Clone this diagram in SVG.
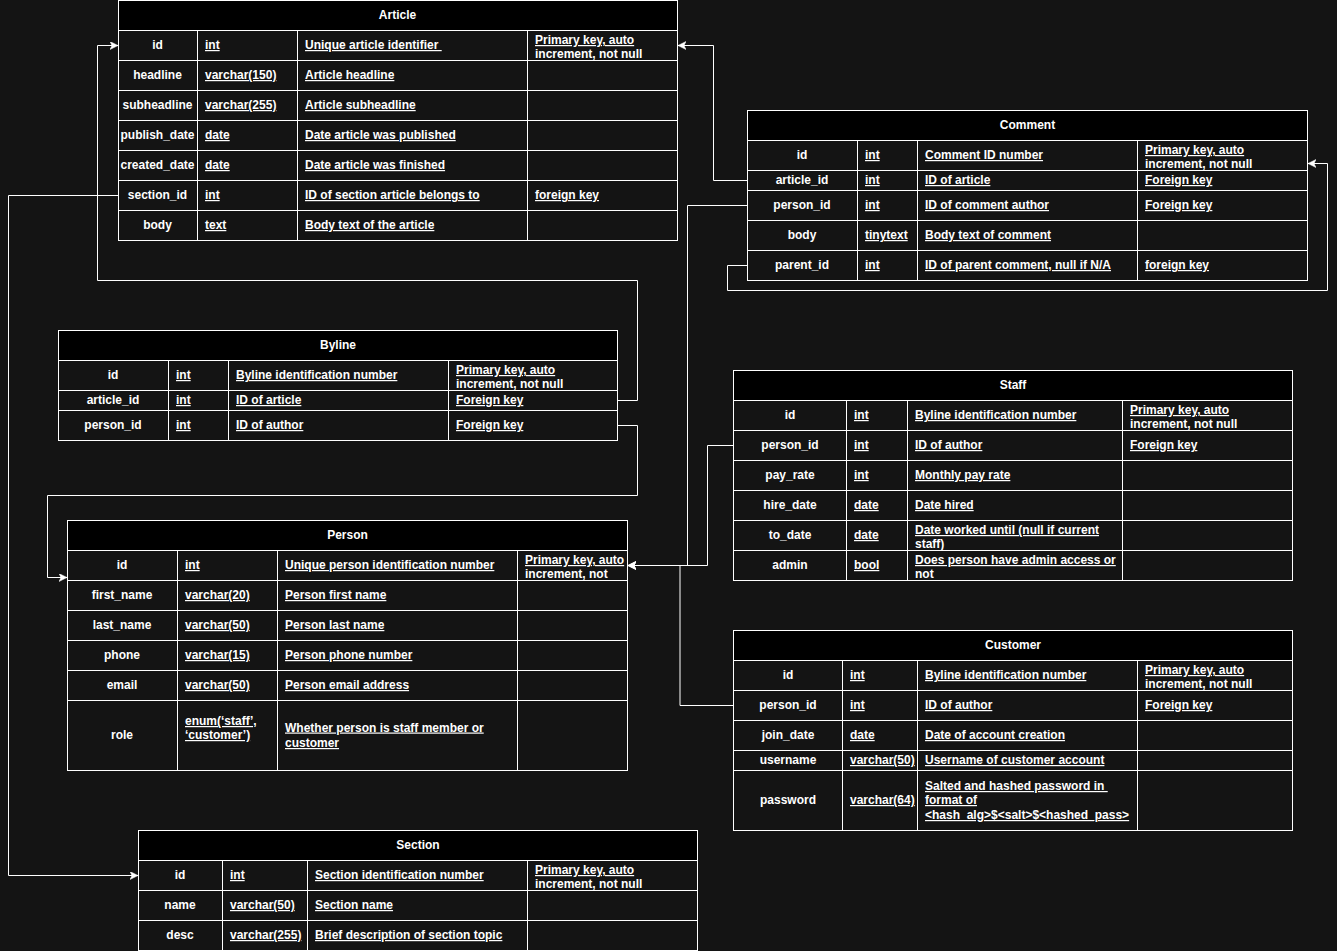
<svg xmlns="http://www.w3.org/2000/svg" width="1337" height="951" viewBox="0 0 1337 951">
<style>
.bg{fill:#141414}
.body{fill:#141414;stroke:#fff;stroke-width:1}
.head{fill:#000;stroke:#fff;stroke-width:1}
.grid{stroke:#fff;stroke-width:1;fill:none}
.conn{stroke:#fff;stroke-width:1;fill:none}
text{font-family:"Liberation Sans",Arial,Helvetica,sans-serif;font-size:12px;font-weight:bold;fill:#fff}
.n{text-anchor:middle}
.u{text-decoration:underline}
</style>
<defs>
<marker id="arr" markerUnits="userSpaceOnUse" markerWidth="10" markerHeight="10" refX="8" refY="4" orient="auto">
<path d="M0,0 L8,4 L0,8 L2,4 Z" fill="#fff" stroke="#fff" stroke-width="0.5"/>
</marker>
</defs>
<rect class="bg" x="0" y="0" width="1337" height="951"/>

<g id="article">
<rect class="body" x="118.5" y="0.5" width="559" height="240"/>
<rect class="head" x="118.5" y="0.5" width="559" height="30"/>
<path class="grid" d="M118.5,60.5H677.5M118.5,90.5H677.5M118.5,120.5H677.5M118.5,150.5H677.5M118.5,180.5H677.5M118.5,210.5H677.5M197.5,30.5V240.5M297.5,30.5V240.5M527.5,30.5V240.5"/>
<text class="n" x="397.5" y="19">Article</text>
<text class="n" x="157.5" y="49">id</text><text class="u" x="205" y="49">int</text><text class="u" x="305" y="49" xml:space="preserve">Unique article identifier </text><text class="u" x="535" y="44">Primary key, auto</text><text x="535" y="57.5">increment, not null</text>
<text class="n" x="157.5" y="79">headline</text><text class="u" x="205" y="79">varchar(150)</text><text class="u" x="305" y="79">Article headline</text>
<text class="n" x="157.5" y="109">subheadline</text><text class="u" x="205" y="109">varchar(255)</text><text class="u" x="305" y="109">Article subheadline</text>
<text class="n" x="157.5" y="139">publish_date</text><text class="u" x="205" y="139">date</text><text class="u" x="305" y="139">Date article was published</text>
<text class="n" x="157.5" y="169">created_date</text><text class="u" x="205" y="169">date</text><text class="u" x="305" y="169">Date article was finished</text>
<text class="n" x="157.5" y="199">section_id</text><text class="u" x="205" y="199">int</text><text class="u" x="305" y="199">ID of section article belongs to</text><text class="u" x="535" y="199">foreign key</text>
<text class="n" x="157.5" y="229">body</text><text class="u" x="205" y="229">text</text><text class="u" x="305" y="229">Body text of the article</text>
</g>

<g id="comment">
<rect class="body" x="747.5" y="110.5" width="560" height="170"/>
<rect class="head" x="747.5" y="110.5" width="560" height="30"/>
<path class="grid" d="M747.5,170.5H1307.5M747.5,190.5H1307.5M747.5,220.5H1307.5M747.5,250.5H1307.5M857.5,140.5V280.5M917.5,140.5V280.5M1137.5,140.5V280.5"/>
<text class="n" x="1027.5" y="129">Comment</text>
<text class="n" x="802" y="159">id</text><text class="u" x="865" y="159">int</text><text class="u" x="925" y="159">Comment ID number</text><text class="u" x="1145" y="154">Primary key, auto</text><text x="1145" y="167.5">increment, not null</text>
<text class="n" x="802" y="184">article_id</text><text class="u" x="865" y="184">int</text><text class="u" x="925" y="184">ID of article</text><text class="u" x="1145" y="184">Foreign key</text>
<text class="n" x="802" y="209">person_id</text><text class="u" x="865" y="209">int</text><text class="u" x="925" y="209">ID of comment author</text><text class="u" x="1145" y="209">Foreign key</text>
<text class="n" x="802" y="239">body</text><text class="u" x="865" y="239">tinytext</text><text class="u" x="925" y="239">Body text of comment</text>
<text class="n" x="802" y="269">parent_id</text><text class="u" x="865" y="269">int</text><text class="u" x="925" y="269">ID of parent comment, null if N/A</text><text class="u" x="1145" y="269">foreign key</text>
</g>

<g id="byline">
<rect class="body" x="58.5" y="330.5" width="559" height="110"/>
<rect class="head" x="58.5" y="330.5" width="559" height="30"/>
<path class="grid" d="M58.5,390.5H617.5M58.5,410.5H617.5M168.5,360.5V440.5M228.5,360.5V440.5M448.5,360.5V440.5"/>
<text class="n" x="338" y="349">Byline</text>
<text class="n" x="113" y="379">id</text><text class="u" x="176" y="379">int</text><text class="u" x="236" y="379">Byline identification number</text><text class="u" x="456" y="374">Primary key, auto</text><text x="456" y="387.5">increment, not null</text>
<text class="n" x="113" y="404">article_id</text><text class="u" x="176" y="404">int</text><text class="u" x="236" y="404">ID of article</text><text class="u" x="456" y="404">Foreign key</text>
<text class="n" x="113" y="429">person_id</text><text class="u" x="176" y="429">int</text><text class="u" x="236" y="429">ID of author</text><text class="u" x="456" y="429">Foreign key</text>
</g>

<g id="person">
<rect class="body" x="67.5" y="520.5" width="560" height="250"/>
<rect class="head" x="67.5" y="520.5" width="560" height="30"/>
<path class="grid" d="M67.5,580.5H627.5M67.5,610.5H627.5M67.5,640.5H627.5M67.5,670.5H627.5M67.5,700.5H627.5M177.5,550.5V770.5M277.5,550.5V770.5M517.5,550.5V770.5"/>
<text class="n" x="347.5" y="539">Person</text>
<text class="n" x="122" y="569">id</text><text class="u" x="185" y="569">int</text><text class="u" x="285" y="569">Unique person identification number</text><text class="u" x="525" y="564">Primary key, auto</text><text x="525" y="577.5">increment, not</text>
<text class="n" x="122" y="599">first_name</text><text class="u" x="185" y="599">varchar(20)</text><text class="u" x="285" y="599">Person first name</text>
<text class="n" x="122" y="629">last_name</text><text class="u" x="185" y="629">varchar(50)</text><text class="u" x="285" y="629">Person last name</text>
<text class="n" x="122" y="659">phone</text><text class="u" x="185" y="659">varchar(15)</text><text class="u" x="285" y="659">Person phone number</text>
<text class="n" x="122" y="689">email</text><text class="u" x="185" y="689">varchar(50)</text><text class="u" x="285" y="689">Person email address</text>
<text class="n" x="122" y="739">role</text><text class="u" x="185" y="725">enum(‘staff’,</text><text class="u" x="185" y="739">‘customer’)</text><text class="u" x="285" y="731.5">Whether person is staff member or</text><text class="u" x="285" y="747">customer</text>
</g>

<g id="staff">
<rect class="body" x="733.5" y="370.5" width="559" height="210"/>
<rect class="head" x="733.5" y="370.5" width="559" height="30"/>
<path class="grid" d="M733.5,430.5H1292.5M733.5,460.5H1292.5M733.5,490.5H1292.5M733.5,520.5H1292.5M733.5,550.5H1292.5M846.5,400.5V580.5M907.5,400.5V580.5M1122.5,400.5V580.5"/>
<text class="n" x="1013" y="389">Staff</text>
<text class="n" x="790" y="419">id</text><text class="u" x="854" y="419">int</text><text class="u" x="915" y="419">Byline identification number</text><text class="u" x="1130" y="414">Primary key, auto</text><text x="1130" y="427.5">increment, not null</text>
<text class="n" x="790" y="449">person_id</text><text class="u" x="854" y="449">int</text><text class="u" x="915" y="449">ID of author</text><text class="u" x="1130" y="449">Foreign key</text>
<text class="n" x="790" y="479">pay_rate</text><text class="u" x="854" y="479">int</text><text class="u" x="915" y="479">Monthly pay rate</text>
<text class="n" x="790" y="509">hire_date</text><text class="u" x="854" y="509">date</text><text class="u" x="915" y="509">Date hired</text>
<text class="n" x="790" y="539">to_date</text><text class="u" x="854" y="539">date</text><text class="u" x="915" y="534">Date worked until (null if current</text><text x="915" y="547.5">staff)</text>
<text class="n" x="790" y="569">admin</text><text class="u" x="854" y="569">bool</text><text class="u" x="915" y="564">Does person have admin access or</text><text x="915" y="577.5">not</text>
</g>

<g id="customer">
<rect class="body" x="733.5" y="630.5" width="559" height="200"/>
<rect class="head" x="733.5" y="630.5" width="559" height="30"/>
<path class="grid" d="M733.5,690.5H1292.5M733.5,720.5H1292.5M733.5,750.5H1292.5M733.5,770.5H1292.5M842.5,660.5V830.5M917.5,660.5V830.5M1137.5,660.5V830.5"/>
<text class="n" x="1013" y="649">Customer</text>
<text class="n" x="788" y="679">id</text><text class="u" x="850" y="679">int</text><text class="u" x="925" y="679">Byline identification number</text><text class="u" x="1145" y="674">Primary key, auto</text><text x="1145" y="687.5">increment, not null</text>
<text class="n" x="788" y="709">person_id</text><text class="u" x="850" y="709">int</text><text class="u" x="925" y="709">ID of author</text><text class="u" x="1145" y="709">Foreign key</text>
<text class="n" x="788" y="739">join_date</text><text class="u" x="850" y="739">date</text><text class="u" x="925" y="739">Date of account creation</text>
<text class="n" x="788" y="764">username</text><text class="u" x="850" y="764">varchar(50)</text><text class="u" x="925" y="764">Username of customer account</text>
<text class="n" x="788" y="804">password</text><text class="u" x="850" y="804">varchar(64)</text><text class="u" x="925" y="790" xml:space="preserve">Salted and hashed password in </text><text class="u" x="925" y="804">format of</text><text class="u" x="925" y="819">&lt;hash_alg&gt;$&lt;salt&gt;$&lt;hashed_pass&gt;</text>
</g>

<g id="section">
<rect class="body" x="138.5" y="830.5" width="559" height="120"/>
<rect class="head" x="138.5" y="830.5" width="559" height="30"/>
<path class="grid" d="M138.5,890.5H697.5M138.5,920.5H697.5M222.5,860.5V950.5M307.5,860.5V950.5M527.5,860.5V950.5"/>
<text class="n" x="418" y="849">Section</text>
<text class="n" x="180" y="879">id</text><text class="u" x="230" y="879">int</text><text class="u" x="315" y="879">Section identification number</text><text class="u" x="535" y="874">Primary key, auto</text><text x="535" y="887.5">increment, not null</text>
<text class="n" x="180" y="909">name</text><text class="u" x="230" y="909">varchar(50)</text><text class="u" x="315" y="909">Section name</text>
<text class="n" x="180" y="939">desc</text><text class="u" x="230" y="939">varchar(255)</text><text class="u" x="315" y="939">Brief description of section topic</text>
</g>

<g id="connectors">
<path class="conn" d="M118,195.5H8.5V875.5H138" marker-end="url(#arr)"/>
<path class="conn" d="M747,180.5H713.5V45.5H678" marker-end="url(#arr)"/>
<path class="conn" d="M747,205.5H687.5V565.5H628" marker-end="url(#arr)"/>
<path class="conn" d="M747,265.5H727.5V290.5H1327.5V163.5H1308" marker-end="url(#arr)"/>
<path class="conn" d="M617,400.5H637.5V280.5H97.5V45.5H118" marker-end="url(#arr)"/>
<path class="conn" d="M617,425.5H637.5V495.5H47.5V577.5H67" marker-end="url(#arr)"/>
<path class="conn" d="M733,445.5H707.5V565.5H628" marker-end="url(#arr)"/>
<path class="conn" d="M733,705.5H680V565.5H628" marker-end="url(#arr)"/>
</g>
</svg>
